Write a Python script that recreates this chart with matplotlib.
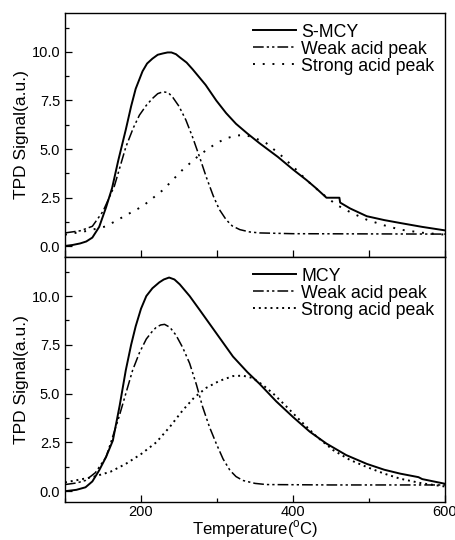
import matplotlib
matplotlib.use('Agg')
import matplotlib.pyplot as plt
from matplotlib.ticker import MultipleLocator, FormatStrFormatter

plt.rcParams['font.family'] = ['Liberation Sans', 'DejaVu Sans']
plt.rcParams['mathtext.fontset'] = 'custom'
plt.rcParams['mathtext.rm'] = 'Liberation Sans'

# S-MCY (top panel)
t_smcy = [100, 110, 120, 128, 136, 145, 154, 162, 170, 180, 187, 193, 202, 208, 215, 222, 229,
          235, 240, 246, 251, 260, 268, 285, 299, 312, 325, 340, 356, 380, 400, 418, 430, 444,
          461, 462, 475, 497, 520, 541, 570, 600]
s_smcy = [0.02, 0.07, 0.15, 0.25, 0.45, 1.0, 2.0, 3.0, 4.4, 6.0, 7.2, 8.1, 9.0, 9.4, 9.65, 9.85,
          9.92, 9.97, 9.97, 9.88, 9.72, 9.45, 9.1, 8.3, 7.5, 6.85, 6.3, 5.8, 5.3, 4.6, 3.95, 3.4,
          3.0, 2.5, 2.5, 2.25, 1.95, 1.55, 1.35, 1.2, 1.0, 0.82]
t_smcy_weak = [100, 120, 136, 150, 165, 180, 190, 198, 207, 215, 222, 229, 236, 242, 250, 259,
               268, 277, 286, 295, 303, 312, 320, 330, 343, 356, 400, 500, 600]
s_smcy_weak = [0.69, 0.8, 1.03, 1.8, 3.1, 5.1, 6.1, 6.75, 7.25, 7.6, 7.85, 7.95, 7.9, 7.65, 7.2,
               6.5, 5.6, 4.6, 3.55, 2.6, 1.9, 1.37, 1.05, 0.86, 0.74, 0.69, 0.65, 0.64, 0.63]
t_smcy_strong = [100, 130, 154, 185, 202, 229, 255, 277, 299, 312, 325, 336, 347, 365, 385, 404,
                 418, 437, 457, 477, 497, 520, 541, 570, 600]
s_smcy_strong = [0.6, 0.8, 1.03, 1.7, 2.06, 2.9, 3.95, 4.7, 5.3, 5.55, 5.7, 5.72, 5.62, 5.3, 4.65,
                 3.95, 3.4, 2.75, 2.14, 1.72, 1.37, 1.08, 0.86, 0.7, 0.6]

# MCY (bottom panel)
t_mcy = [100, 115, 127, 136, 145, 154, 163, 172, 180, 187, 193, 200, 207, 215, 224, 230, 237,
         244, 251, 264, 277, 299, 321, 340, 356, 378, 400, 422, 444, 470, 497, 520, 541, 565,
         570, 585, 600]
s_mcy = [0.0, 0.07, 0.2, 0.5, 1.07, 1.75, 2.6, 4.4, 6.2, 7.5, 8.45, 9.35, 10.0, 10.4, 10.7, 10.85,
         10.95, 10.85, 10.6, 10.0, 9.3, 8.1, 6.9, 6.1, 5.5, 4.6, 3.8, 3.05, 2.44, 1.85, 1.4, 1.1,
         0.9, 0.72, 0.62, 0.5, 0.38]
t_mcy_weak = [100, 115, 127, 140, 154, 162, 171, 180, 189, 198, 207, 214, 220, 226, 231, 238,
              246, 255, 264, 273, 281, 290, 299, 308, 317, 325, 334, 350, 365, 450, 600]
s_mcy_weak = [0.34, 0.42, 0.55, 0.95, 1.75, 2.7, 3.8, 5.0, 6.2, 7.1, 7.8, 8.15, 8.4, 8.52, 8.55,
              8.4, 8.0, 7.35, 6.55, 5.45, 4.33, 3.3, 2.44, 1.65, 1.07, 0.75, 0.55, 0.4, 0.34,
              0.32, 0.32]
t_mcy_strong = [100, 136, 160, 180, 200, 220, 238, 255, 270, 286, 303, 321, 334, 347, 360, 374,
                391, 409, 431, 453, 475, 497, 520, 541, 570, 600]
s_mcy_strong = [0.45, 0.72, 1.0, 1.4, 1.9, 2.5, 3.3, 4.15, 4.8, 5.3, 5.65, 5.9, 5.92, 5.8, 5.45,
                5.0, 4.35, 3.64, 2.8, 2.1, 1.6, 1.24, 0.9, 0.64, 0.4, 0.24]

panels = [
    ('S-MCY', t_smcy, s_smcy, t_smcy_weak, s_smcy_weak, t_smcy_strong, s_smcy_strong, (0, (1, 4))),
    ('MCY', t_mcy, s_mcy, t_mcy_weak, s_mcy_weak, t_mcy_strong, s_mcy_strong, (0, (1, 2))),
]

fig = plt.figure(figsize=(4.56, 5.4), dpi=100)
ax_top = fig.add_axes([0.1425, 0.524, 0.8335, 0.452])
ax_bot = fig.add_axes([0.1425, 0.0705, 0.8335, 0.4535], sharex=ax_top)

for ax, (name, t, s, tw, sw, ts, ss, dots) in zip([ax_top, ax_bot], panels):
    ax.plot(t, s, color='black', lw=1.4, label=name)
    ax.plot(tw, sw, color='black', lw=1.1, linestyle=(0, (7, 2, 1.5, 2, 1.5, 2)),
            label='Weak acid peak')
    ax.plot(ts, ss, color='black', lw=1.4, linestyle=dots, label='Strong acid peak')
    ax.set_xlim(100, 600)
    ax.set_ylim(-0.55, 12.0)
    ax.yaxis.set_major_locator(MultipleLocator(2.5))
    ax.yaxis.set_minor_locator(MultipleLocator(1.25))
    ax.xaxis.set_major_locator(MultipleLocator(200))
    ax.xaxis.set_minor_locator(MultipleLocator(100))
    ax.tick_params(which='both', direction='in', labelsize=10.5, top=False, right=False)
    ax.tick_params(which='major', length=5, width=0.9)
    ax.tick_params(which='minor', length=3, width=0.9)
    ax.yaxis.set_major_formatter(FormatStrFormatter('%.1f'))
    ax.set_ylabel('TPD Signal(a.u.)', fontsize=12.5, labelpad=2)
    for sp in ax.spines.values():
        sp.set_linewidth(1.0)
    ax.legend(loc='upper right', frameon=False, fontsize=12.8, handlelength=2.4,
              handletextpad=0.3, labelspacing=0.0, borderaxespad=0.2,
              bbox_to_anchor=(1.0, 1.0))

ax_top.tick_params(axis='x', labelbottom=False)
ax_top.tick_params(axis='x', which='minor', length=5)
ax_bot.tick_params(axis='x', pad=2)
ax_bot.set_xlabel(r'Temperature($^{\rm o}$C)', fontsize=12, labelpad=0)

fig.savefig('out.png', dpi=100)
